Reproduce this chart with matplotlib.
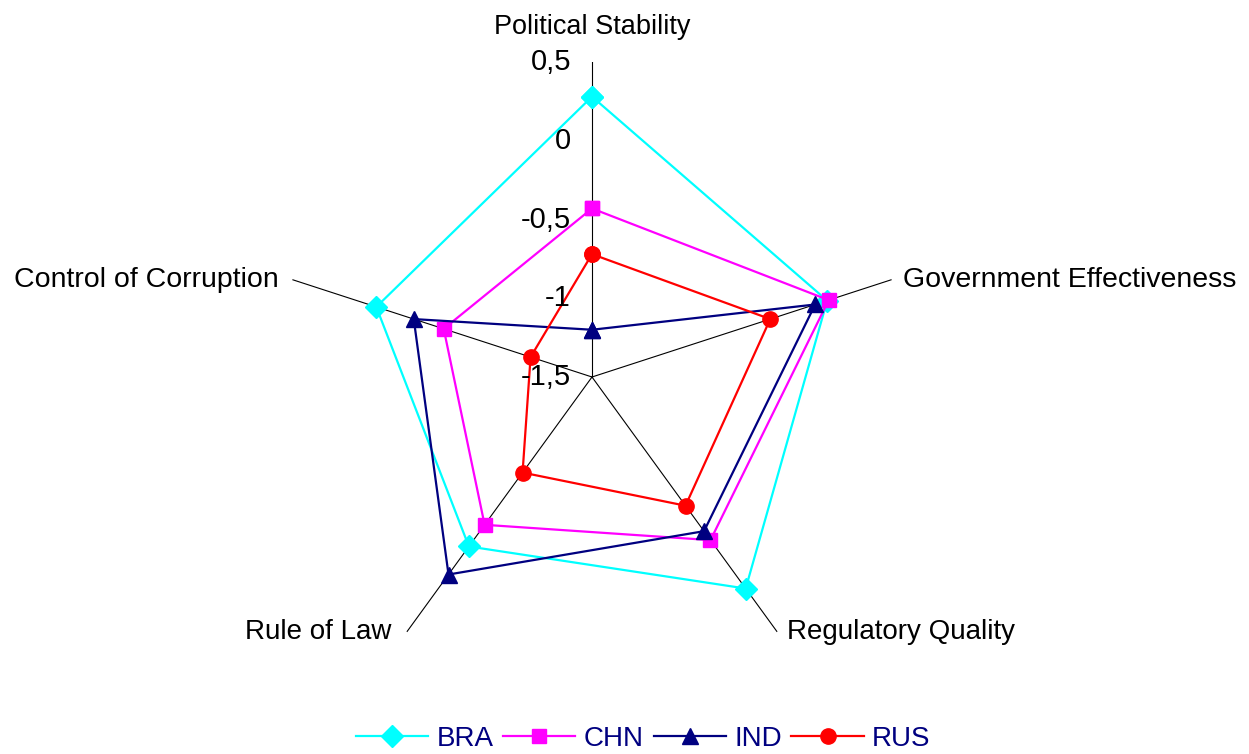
import numpy as np
import matplotlib.pyplot as plt
from matplotlib.transforms import ScaledTranslation

plt.rcParams['font.family'] = ['Liberation Sans', 'DejaVu Sans']

# Governance indicators for each country
categories = ['Political Stability', 'Government Effectiveness', 'Regulatory Quality',
              'Rule of Law', 'Control of Corruption']
bra = [0.28, 0.07, 0.16, -0.17, -0.06]
chn = [-0.43, 0.08, -0.22, -0.34, -0.51]
ind = [-1.20, -0.01, -0.29, 0.05, -0.31]
rus = [-0.72, -0.31, -0.49, -0.75, -1.09]
series = [('BRA', bra, '#00FFFF', 'D', 11),
          ('CHN', chn, '#FF00FF', 's', 10.5),
          ('IND', ind, '#000080', '^', 12),
          ('RUS', rus, '#FF0000', 'o', 11)]
r_ticks = [0.5, 0, -0.5, -1, -1.5]
r_min, r_max = -1.5, 0.5

fig = plt.figure(figsize=(12.49, 7.54), dpi=100)
ax = fig.add_axes([277 / 1249, 62 / 754, 630 / 1249, 630 / 754], projection='polar')
ax.set_theta_offset(np.pi / 2)
ax.set_theta_direction(-1)
ax.set_ylim(r_min, r_max)

angles = np.linspace(0, 2 * np.pi, len(categories), endpoint=False)

# spokes only, no rings
ax.set_thetagrids(np.degrees(angles), [''] * len(categories))
ax.xaxis.grid(True, color='black', linewidth=0.8)
ax.yaxis.grid(False)
ax.set_yticks([])
ax.spines['polar'].set_visible(False)
ax.set_facecolor('none')

for name, vals, col, mk, ms in series:
    a = np.append(angles, angles[0])
    v = np.append(vals, vals[0])
    ax.plot(a, v, color=col, linewidth=1.6, marker=mk, markersize=ms,
            markerfacecolor=col, markeredgecolor=col, label=name, clip_on=False)

# radial tick labels along the top spoke
shift = ax.transData + ScaledTranslation(-0.21, 0, fig.dpi_scale_trans)
for t in r_ticks:
    lbl = ('%g' % t).replace('.', ',')
    ax.text(0, t, lbl, fontsize=21, ha='right', va='center', transform=shift)

# category labels outside the spokes
label_pos = [(0, 16, 'center', 'bottom', 19.5),
             (8, 0, 'left', 'center', 20.5),
             (7, 0, 'left', 'center', 20),
             (-11, 0, 'right', 'center', 20),
             (-10, 0, 'right', 'center', 20.5)]
for ang, cat, (dx, dy, ha, va, fs) in zip(angles, categories, label_pos):
    ax.annotate(cat, xy=(ang, r_max), xytext=(dx, dy), textcoords='offset points',
                fontsize=fs, ha=ha, va=va, annotation_clip=False)

leg = fig.legend(loc='center', bbox_to_anchor=(0.515, 15 / 754), ncol=4, frameon=False,
                 fontsize=20, handlelength=2.6, handletextpad=0.3, columnspacing=0.35)
for txt in leg.get_texts():
    txt.set_color('#000080')

fig.savefig('out.png', dpi=100)
